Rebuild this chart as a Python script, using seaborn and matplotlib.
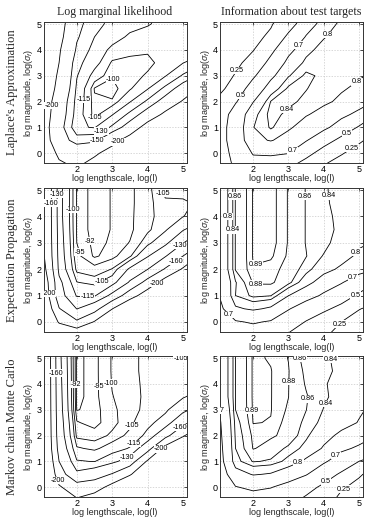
import matplotlib
matplotlib.use("Agg")

import numpy as np
import matplotlib.pyplot as plt
import seaborn as sns

# grid nodes (log lengthscale across, log magnitude down the rows)
log_lengthscale = [1.0, 1.5, 2.0, 2.5, 3.0, 3.5, 4.0, 4.5, 5.0, 5.5]
log_magnitude = [-0.5, 0.0, 0.5, 1.0, 1.5, 2.0, 2.5, 3.0, 3.5, 4.0, 4.5, 5.0, 5.5]

# Laplace's approximation: log marginal likelihood
lml_laplace = [
    [-260, -210, -195, -225, -265, -305, -345, -385, -425, -465],
    [-245, -190, -175, -190, -225, -265, -305, -345, -385, -425],
    [-235, -165, -139, -143, -180, -225, -270, -310, -350, -390],
    [-230, -162, -117, -114, -133, -165, -225, -260, -300, -340],
    [-235, -168, -122, -102, -114, -134, -165, -212, -250, -290],
    [-240, -172, -124, -101, -100.5, -114, -133, -163, -205, -235],
    [-245, -185, -127, -99.5, -98, -104, -114, -134, -165, -208],
    [-250, -192, -131, -110, -100.5, -102, -106, -114, -132, -155],
    [-255, -200, -135, -120, -103.5, -102, -103, -108, -114.5, -125],
    [-260, -205, -146, -123, -112, -108, -106, -106, -107, -108],
    [-265, -215, -153, -130, -120, -113, -110, -108, -107, -107],
    [-270, -222, -158, -136, -125, -119, -116, -111, -109, -108],
    [-280, -230, -168, -140, -127, -122, -118, -113, -111, -110],
]

# Laplace's approximation: information about test targets
info_laplace = [
    [0.33, 0.54, 0.64, 0.64, 0.54, 0.38, 0.24, 0.13, 0.06, 0.02],
    [0.36, 0.58, 0.71, 0.715, 0.705, 0.58, 0.40, 0.27, 0.15, 0.07],
    [0.38, 0.62, 0.78, 0.805, 0.77, 0.71, 0.60, 0.44, 0.29, 0.15],
    [0.38, 0.62, 0.798, 0.845, 0.81, 0.77, 0.73, 0.64, 0.48, 0.33],
    [0.35, 0.60, 0.78, 0.855, 0.83, 0.805, 0.78, 0.73, 0.67, 0.50],
    [0.30, 0.48, 0.695, 0.842, 0.85, 0.83, 0.81, 0.79, 0.75, 0.69],
    [0.17, 0.37, 0.60, 0.76, 0.85, 0.842, 0.82, 0.805, 0.79, 0.77],
    [0.10, 0.27, 0.47, 0.67, 0.795, 0.85, 0.83, 0.82, 0.805, 0.79],
    [0.08, 0.19, 0.35, 0.56, 0.74, 0.815, 0.835, 0.835, 0.83, 0.82],
    [0.06, 0.15, 0.24, 0.45, 0.66, 0.78, 0.825, 0.83, 0.83, 0.82],
    [0.04, 0.12, 0.19, 0.29, 0.55, 0.71, 0.795, 0.83, 0.83, 0.82],
    [0.03, 0.10, 0.16, 0.23, 0.40, 0.63, 0.75, 0.82, 0.83, 0.83],
    [0.02, 0.08, 0.14, 0.20, 0.27, 0.52, 0.69, 0.78, 0.83, 0.83],
]

# Expectation propagation: log marginal likelihood
lml_ep = [
    [-300, -250, -240, -260, -300, -340, -380, -420, -455, -490],
    [-275, -195, -165, -203, -250, -295, -340, -380, -415, -450],
    [-255, -162, -129.5, -145, -199, -250, -295, -335, -375, -410],
    [-245, -138, -114, -113.5, -135, -180, -225, -270, -310, -350],
    [-240, -135, -105.3, -103, -110, -132, -172, -220, -265, -305],
    [-225, -125, -98.5, -96.5, -100.3, -117, -129.5, -163, -205, -245],
    [-215, -123, -96, -91.5, -93.5, -99, -114, -128, -160, -205],
    [-213, -122, -95, -91, -92.5, -95.2, -103, -112, -129, -155],
    [-212, -121, -94.5, -90.5, -92.2, -94, -99, -104, -114, -125],
    [-212, -120, -94.5, -90.5, -92.2, -94, -98.5, -102.5, -104.8, -108],
    [-212, -120, -94.5, -90.5, -92.2, -94, -98, -104, -104, -106],
    [-212, -120, -94.5, -90.5, -92.2, -94, -98, -106.5, -107, -108],
    [-212, -120, -94.5, -90.5, -92.2, -94, -98, -107, -108, -109],
]

# Expectation propagation: information about test targets
info_ep = [
    [0.55, 0.62, 0.64, 0.62, 0.48, 0.40, 0.28, 0.17, 0.09, 0.04],
    [0.60, 0.69, 0.71, 0.69, 0.60, 0.49, 0.38, 0.25, 0.15, 0.08],
    [0.66, 0.79, 0.81, 0.79, 0.71, 0.62, 0.54, 0.44, 0.26, 0.18],
    [0.69, 0.84, 0.866, 0.861, 0.801, 0.755, 0.68, 0.60, 0.47, 0.35],
    [0.70, 0.838, 0.882, 0.883, 0.868, 0.82, 0.77, 0.71, 0.62, 0.50],
    [0.72, 0.862, 0.8895, 0.885, 0.875, 0.85, 0.818, 0.79, 0.75, 0.70],
    [0.72, 0.862, 0.891, 0.892, 0.878, 0.861, 0.838, 0.82, 0.79, 0.77],
    [0.72, 0.862, 0.891, 0.895, 0.879, 0.859, 0.849, 0.825, 0.808, 0.795],
    [0.72, 0.862, 0.891, 0.895, 0.879, 0.859, 0.85, 0.833, 0.815, 0.805],
    [0.72, 0.862, 0.891, 0.895, 0.879, 0.859, 0.848, 0.832, 0.82, 0.815],
    [0.72, 0.862, 0.891, 0.895, 0.879, 0.859, 0.846, 0.828, 0.82, 0.82],
    [0.72, 0.862, 0.891, 0.895, 0.879, 0.859, 0.845, 0.825, 0.82, 0.82],
    [0.72, 0.862, 0.891, 0.895, 0.879, 0.859, 0.845, 0.825, 0.82, 0.82],
]

# Markov chain Monte Carlo: log marginal likelihood
lml_mcmc = [
    [-320, -240, -205, -225, -270, -310, -350, -390, -425, -460],
    [-300, -205, -175, -180, -215, -255, -300, -340, -380, -415],
    [-285, -175, -135, -145, -162, -195, -245, -290, -330, -370],
    [-275, -160, -116, -114.5, -125, -140, -205, -240, -280, -320],
    [-270, -148, -106, -103.5, -109, -116, -145, -215, -250, -290],
    [-270, -143, -98.5, -97.5, -101, -107, -118, -148, -195, -240],
    [-270, -141, -95.5, -93, -98.5, -103, -112, -120, -150, -180],
    [-270, -139, -91.8, -93, -99, -102.5, -107, -113, -124, -140],
    [-270, -138, -91, -93.5, -99.8, -102.5, -106.5, -110, -114, -120],
    [-270, -137, -91, -93.5, -100.3, -103, -106.5, -108, -110, -112],
    [-270, -136, -91, -93.5, -100.5, -103, -107, -108, -107.5, -106],
    [-270, -135, -91, -93.5, -100.5, -103, -107, -106.5, -104.8, -104.5],
    [-270, -135, -91, -93.5, -100.5, -103, -107, -106, -104.5, -104],
]

# Markov chain Monte Carlo: information about test targets
info_mcmc = [
    [0.54, 0.63, 0.65, 0.63, 0.56, 0.46, 0.33, 0.20, 0.12, 0.06],
    [0.58, 0.695, 0.72, 0.705, 0.66, 0.57, 0.46, 0.27, 0.20, 0.12],
    [0.62, 0.77, 0.805, 0.795, 0.76, 0.71, 0.60, 0.47, 0.27, 0.18],
    [0.64, 0.83, 0.862, 0.857, 0.83, 0.79, 0.72, 0.63, 0.50, 0.40],
    [0.65, 0.84, 0.881, 0.874, 0.855, 0.831, 0.795, 0.725, 0.68, 0.60],
    [0.66, 0.845, 0.884, 0.882, 0.876, 0.845, 0.815, 0.79, 0.755, 0.70],
    [0.67, 0.85, 0.8905, 0.8895, 0.874, 0.855, 0.832, 0.815, 0.798, 0.77],
    [0.685, 0.86, 0.8915, 0.8905, 0.878, 0.8605, 0.839, 0.82, 0.805, 0.79],
    [0.72, 0.86, 0.892, 0.8905, 0.8802, 0.862, 0.844, 0.83, 0.82, 0.81],
    [0.72, 0.86, 0.892, 0.8905, 0.8805, 0.858, 0.842, 0.832, 0.824, 0.82],
    [0.72, 0.86, 0.892, 0.8905, 0.881, 0.855, 0.845, 0.835, 0.825, 0.82],
    [0.72, 0.86, 0.892, 0.889, 0.8795, 0.85, 0.843, 0.835, 0.825, 0.82],
    [0.72, 0.86, 0.892, 0.889, 0.8795, 0.85, 0.843, 0.835, 0.825, 0.82],
]

levels_lml_laplace = [-200, -150, -130, -115, -105, -100]
levels_lml = [-200, -160, -130, -115, -105, -100, -95, -92]
levels_info_laplace = [0.25, 0.5, 0.7, 0.8, 0.84]
levels_info = [0.25, 0.5, 0.7, 0.8, 0.84, 0.86, 0.88, 0.89]

row_names = ["Laplace's Approximation", "Expectation Propagation",
             "Markov chain Monte Carlo"]
col_titles = ["Log marginal likelihood", "Information about test targets"]

# where the inline contour labels sit (layout only)
label_spots = [
    [[(2.98, 2.8), (2.1, 2.09), (1.44, 1.83), (2.48, 1.31), (2.72, 0.77),
      (2.62, 0.39), (3.19, 0.39)],
     [(1.55, 3.2), (1.64, 2.25), (3.28, 4.19), (4.08, 4.64), (3.0, 1.61),
      (4.92, 2.77), (4.66, 0.78), (4.8, 0.2), (3.13, 0.05)]],
    [[(1.46, 4.83), (1.22, 4.51), (1.89, 4.26), (2.27, 3.04), (2.08, 2.65),
      (4.34, 4.83), (2.74, 1.44), (2.31, 0.86), (1.22, 1.08), (4.92, 2.91),
      (4.78, 2.33), (4.26, 1.44)],
     [(1.55, 4.77), (1.27, 4.0), (1.41, 3.49), (2.07, 2.21), (2.07, 1.24),
      (3.52, 4.77), (4.08, 4.77), (4.92, 2.65), (4.83, 1.69), (4.88, 1.05),
      (4.46, -0.1), (1.22, 0.15)]],
    [[(1.46, 4.42), (2.07, 3.97), (2.58, 3.9), (3.0, 4.03), (4.74, 4.83),
      (3.57, 2.36), (3.61, 1.69), (3.42, 1.17), (4.36, 1.52), (4.88, 2.38),
      (1.41, 0.23)],
     [(3.19, 5.0), (4.27, 4.96), (2.96, 4.1), (3.61, 3.41), (3.99, 3.29),
      (2.02, 2.98), (1.1, 2.98), (3.28, 0.94), (4.36, 1.22), (4.08, 0.19),
      (4.55, -0.06)]],
]

panels = [
    [(lml_laplace, levels_lml_laplace), (info_laplace, levels_info_laplace)],
    [(lml_ep, levels_lml), (info_ep, levels_info)],
    [(lml_mcmc, levels_lml), (info_mcmc, levels_info)],
]

sns.set_style("white")
plt.rcParams['font.family'] = ['Liberation Sans', 'DejaVu Sans']
plt.rcParams['mathtext.fontset'] = 'custom'
plt.rcParams['mathtext.rm'] = 'Liberation Sans'
plt.rcParams['mathtext.it'] = 'Liberation Sans:italic'
plt.rcParams['mathtext.sf'] = 'Liberation Sans'
plt.rcParams['contour.negative_linestyle'] = 'solid'

W, H = 367, 518
fig = plt.figure(figsize=(W / 100, H / 100), dpi=100)

col_px = [(43.5, 186.5), (220.0, 362.5)]
row_px = [(22.0, 163.0), (188.0, 332.0), (356.0, 497.0)]

for r in range(3):
    for c in range(2):
        x0, x1 = col_px[c]
        y0, y1 = row_px[r]
        ax = fig.add_axes([x0 / W, 1 - y1 / H, (x1 - x0) / W, (y1 - y0) / H])
        z, lev = panels[r][c]
        ax.set_xlim(1.06, 5.1)
        ax.set_ylim(-0.38, 5.08)
        cs = ax.contour(log_lengthscale, log_magnitude, np.array(z, dtype=float),
                        levels=lev, colors='k', linewidths=0.6)
        texts = ax.clabel(cs, fmt='%g', fontsize=5.2, inline=False,
                          manual=label_spots[r][c])
        for t in texts:
            t.set_rotation(0)
            t.set_bbox(dict(facecolor='white', edgecolor='none', pad=0.2))
            t.set_clip_on(True)

        ax.set_xticks([2, 3, 4, 5])
        ax.set_yticks([0, 1, 2, 3, 4, 5])
        ax.grid(True, ls=(0, (2, 2)), color='#c8c8c8', lw=0.5)
        ax.set_axisbelow(True)
        ax.tick_params(direction='in', length=2.5, width=0.5, labelsize=6.5,
                       pad=1.5, top=True, right=True, colors='k')
        for sp in ax.spines.values():
            sp.set_linewidth(0.7)
            sp.set_color('#333333')
        ax.set_xlabel('log lengthscale, log(l)', fontsize=6.5, labelpad=0)
        ax.set_ylabel(r'log magnitude, log($\sigma_f$)', fontsize=6.5, labelpad=1)
        if r == 0:
            ax.set_title(col_titles[c], fontsize=8.6, family='Liberation Serif', pad=5)

for r in range(3):
    y0, y1 = row_px[r]
    fig.text(12 / W, 1 - (y0 + y1) / 2 / H, row_names[r], rotation=90,
             ha='center', va='center', fontsize=9, family='Liberation Serif')

fig.savefig('out.png', dpi=100)
plt.close(fig)
